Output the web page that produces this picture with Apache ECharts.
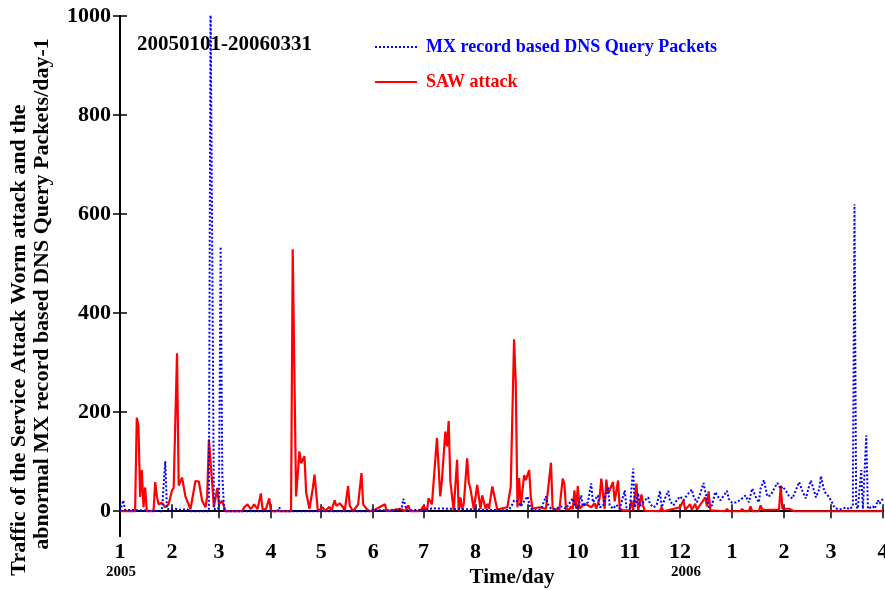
<!DOCTYPE html>
<html>
<head>
<meta charset="utf-8">
<script src="https://cdn.jsdelivr.net/npm/echarts@6/dist/echarts.min.js"></script>
<style>
html,body{margin:0;padding:0;background:#fff;}
#c{width:885px;height:590px;}
</style>
</head>
<body>
<div id="c"></div>
<script>
// Day index since 2005-01-01
const monthStartDays = [0,31,59,90,120,151,181,212,243,273,304,334,365,396,424,455];
const monthLabels = ['1','2','3','4','5','6','7','8','9','10','11','12','1','2','3','4'];
const yearLabelAt = {0:'2005', 334:'2006'};
const yTicks = [0,200,400,600,800,1000];
const seriesNames = ['MX record based DNS Query Packets', 'SAW attack'];

const mxPoints = [[0,0],[1,2],[2,22],[3,3],[4,0],[25,0],[26,2],[27,101],[28,5],[30,3],[33,5],[36,3],[40,4],[42,0],[53,0],[54,1050],[55,1050],[56,5],[58,3],[59,8],[60,534],[61,76],[62,5],[63,0],[94,0],[95,8],[96,0],[150,0],[151,5],[152,8],[153,2],[164,2],[165,6],[166,2],[168,8],[169,25],[170,13],[171,2],[184,3],[186,6],[187,2],[229,2],[232,3],[234,14],[235,22],[237,20],[239,10],[243,30],[244,15],[245,5],[248,2],[251,4],[254,30],[255,15],[257,5],[260,5],[263,10],[266,5],[268,16],[270,26],[271,15],[273,5],[275,32],[276,10],[279,18],[281,56],[282,18],[283,22],[285,32],[286,8],[288,10],[290,39],[291,49],[292,12],[294,5],[296,13],[298,5],[301,42],[302,8],[304,5],[306,86],[307,8],[309,37],[310,10],[313,22],[315,28],[316,15],[318,8],[320,12],[322,41],[323,8],[325,26],[327,41],[328,20],[330,12],[332,22],[334,30],[336,22],[338,32],[341,44],[342,30],[344,18],[346,35],[348,57],[349,40],[351,8],[353,12],[355,39],[356,41],[358,22],[359,26],[362,41],[363,25],[365,17],[368,18],[371,26],[373,32],[375,18],[377,46],[379,30],[381,18],[382,46],[384,63],[386,30],[388,32],[390,45],[392,57],[394,45],[395,50],[397,42],[399,30],[401,26],[403,42],[405,59],[407,40],[409,26],[411,52],[412,62],[414,40],[415,28],[417,45],[418,71],[420,40],[422,32],[424,22],[426,8],[428,4],[430,4],[433,8],[435,4],[437,10],[438,620],[439,10],[440,5],[442,83],[443,5],[445,153],[446,5],[447,8],[449,10],[450,5],[452,22],[453,15],[455,26]];

const sawPoints = [[0,0],[9,0],[10,189],[11,172],[12,29],[13,83],[14,8],[15,48],[16,0],[20,0],[21,59],[22,30],[23,14],[25,17],[27,8],[29,14],[31,42],[32,47],[34,319],[35,52],[37,68],[39,30],[42,4],[45,61],[47,60],[49,21],[51,8],[52,30],[53,145],[55,55],[56,8],[58,47],[59,14],[61,21],[62,10],[63,0],[73,0],[74,8],[76,14],[78,4],[80,14],[82,4],[84,36],[85,4],[87,4],[89,26],[90,0],[102,0],[103,529],[105,30],[107,121],[108,97],[110,111],[111,38],[113,5],[115,47],[116,74],[117,71],[118,0],[121,8],[122,0],[125,9],[126,0],[128,22],[129,11],[131,16],[133,8],[134,0],[136,51],[137,11],[139,0],[142,14],[144,77],[145,14],[147,5],[149,0],[152,3],[153,0],[158,14],[159,0],[165,4],[168,4],[170,0],[172,12],[173,0],[178,0],[180,5],[181,11],[183,0],[184,26],[186,14],[189,148],[191,30],[192,64],[194,161],[195,131],[196,182],[197,61],[199,1],[201,104],[202,0],[203,28],[204,4],[205,15],[207,107],[208,58],[209,45],[211,4],[213,53],[215,5],[216,32],[218,5],[219,15],[220,5],[222,50],[223,49],[225,3],[228,6],[231,8],[233,49],[235,347],[236,260],[237,8],[238,67],[239,10],[241,73],[242,63],[244,83],[245,28],[246,5],[250,8],[254,5],[257,98],[258,5],[262,3],[264,66],[265,55],[266,4],[268,4],[269,10],[270,4],[271,42],[272,5],[273,51],[274,5],[275,1],[277,15],[279,12],[281,8],[283,16],[284,5],[286,26],[287,66],[289,5],[290,64],[291,35],[294,59],[295,20],[297,62],[298,5],[300,2],[304,2],[305,22],[306,2],[308,56],[309,2],[311,34],[312,10],[313,1],[322,0],[323,8],[324,0],[334,8],[336,22],[337,3],[340,14],[341,3],[343,15],[344,3],[349,28],[350,10],[351,40],[352,2],[353,0],[361,0],[362,5],[363,0],[370,0],[371,5],[372,0],[375,0],[376,10],[377,0],[381,0],[382,12],[383,3],[393,3],[394,52],[395,5],[399,5],[400,2],[402,0],[455,0]];

const FONT = '"Liberation Serif","Times New Roman",serif';
const chart = echarts.init(document.getElementById('c'), null, {renderer:'canvas'});

const axisLineStyle = {color:'#000', width:2};
function xLabelFmt(v){
  const i = monthStartDays.indexOf(Math.round(v));
  if (i < 0) return '';
  const d = monthStartDays[i];
  const y = yearLabelAt[d];
  if (!y) return '{m|' + monthLabels[i] + '}';
  return '{m|' + monthLabels[i] + '}\n{' + (d === 0 ? 'y' : 'y2') + '|' + y + '}';
}

chart.setOption({
  animation:false,
  backgroundColor:'#fff',
  grid:{left:120, right:2, top:16, bottom:54, containLabel:false, outerBoundsMode:'none'},
  legend:{
    orient:'vertical', left:374, top:37, padding:0, itemWidth:42, itemHeight:20, itemGap:15,
    itemStyle:{opacity:0},
    data:[
      {name:seriesNames[0], textStyle:{color:'#0000ff'}},
      {name:seriesNames[1], textStyle:{color:'#ff0000'}}
    ],
    textStyle:{fontFamily:FONT, fontWeight:'bold', fontSize:18, lineHeight:20, padding:[0,0,0,4]}
  },
  xAxis:[{
    type:'value', min:0, max:455, position:'bottom',
    axisLine:{show:true, lineStyle:axisLineStyle},
    axisTick:{show:true, inside:true, length:7, customValues:monthStartDays, lineStyle:{color:'#000', width:1.5}},
    axisLabel:{show:true, customValues:monthStartDays, margin:5, formatter:xLabelFmt, hideOverlap:false,
      rich:{
        m:{fontFamily:FONT, fontWeight:'bold', fontSize:22, color:'#000', lineHeight:23},
        y:{fontFamily:FONT, fontWeight:'bold', fontSize:15, color:'#000', lineHeight:16, padding:[0,0,0,2]},
        y2:{fontFamily:FONT, fontWeight:'bold', fontSize:15, color:'#000', lineHeight:16, padding:[0,0,0,12]}
      }},
    splitLine:{show:false}
  },{
    type:'value', min:0, max:455, position:'top',
    axisLine:{show:true, lineStyle:axisLineStyle},
    axisTick:{show:true, inside:true, length:7, customValues:monthStartDays, lineStyle:{color:'#000', width:1.5}},
    axisLabel:{show:false},
    splitLine:{show:false}
  }],
  yAxis:[{
    type:'value', min:-50, max:1000, position:'left',
    axisLine:{show:true, lineStyle:axisLineStyle},
    axisTick:{show:true, inside:true, length:7, customValues:yTicks, lineStyle:{color:'#000', width:1.5}},
    axisLabel:{show:true, customValues:yTicks, margin:9, formatter:function(v){return String(v);},
      fontFamily:FONT, fontWeight:'bold', fontSize:22, color:'#000'},
    splitLine:{show:false}
  },{
    type:'value', min:-50, max:1000, position:'right',
    axisLine:{show:true, lineStyle:axisLineStyle},
    axisTick:{show:true, inside:true, length:7, customValues:yTicks, lineStyle:{color:'#000', width:1.5}},
    axisLabel:{show:false},
    splitLine:{show:false}
  }],
  series:[{
    name:seriesNames[1], type:'line', xAxisIndex:0, yAxisIndex:0,
    data:sawPoints, symbol:'none', showSymbol:false, clip:true,
    lineStyle:{color:'#ff0000', width:2.2}, itemStyle:{color:'#ff0000'}, z:2
  },{
    name:seriesNames[0], type:'line', xAxisIndex:0, yAxisIndex:0,
    data:mxPoints, symbol:'none', showSymbol:false, clip:true,
    lineStyle:{color:'#0000ff', width:2, type:'dotted'}, itemStyle:{color:'#0000ff'}, z:3
  }],
  graphic:[
    {type:'text', left:137, top:34, style:{text:'20050101-20060331', fontFamily:FONT, fontWeight:'bold', fontSize:21, fill:'#000'}},
    {type:'text', x:512, y:578, style:{text:'Time/day', fontFamily:FONT, fontWeight:'bold', fontSize:21, fill:'#000', align:'center', verticalAlign:'middle'}},
    {type:'text', x:19, y:340, rotation:Math.PI/2, style:{text:'Traffic of the Service Attack Worm attack and the', fontFamily:FONT, fontWeight:'bold', fontSize:22, fill:'#000', align:'center', verticalAlign:'middle'}},
    {type:'text', x:42, y:294, rotation:Math.PI/2, style:{text:'abnormal MX record based DNS Query Packets/day-1', fontFamily:FONT, fontWeight:'bold', fontSize:22, fill:'#000', align:'center', verticalAlign:'middle'}}
  ]
});
</script>
</body>
</html>
